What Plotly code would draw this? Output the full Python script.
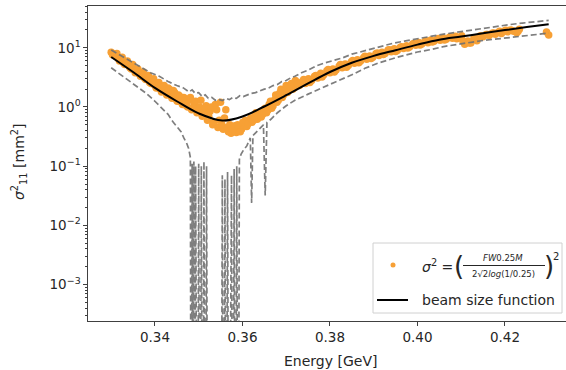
import plotly.graph_objects as go

# ---------------- data ----------------
energy_fit = [0.330, 0.335, 0.340, 0.345, 0.350, 0.3554, 0.360, 0.365, 0.370, 0.375,
              0.380, 0.385, 0.390, 0.395, 0.400, 0.405, 0.410, 0.415, 0.420, 0.425, 0.430]
sigma_fit = [7.0, 3.9, 2.1, 1.25, 0.78, 0.59, 0.69, 1.02, 1.58, 2.5,
             3.9, 5.6, 7.3, 9.1, 11.3, 13.7, 15.5, 17.6, 19.9, 22.4, 25.0]

# measured beam size (first pass of the scan)
energy_data = [
    0.3300, 0.3305, 0.3310, 0.3316, 0.3322, 0.3328, 0.3334, 0.3340, 0.3346, 0.3352,
    0.3358, 0.3364, 0.3370, 0.3376, 0.3382, 0.3388, 0.3394, 0.3400, 0.3406, 0.3412,
    0.3418, 0.3424, 0.3430, 0.3436, 0.3442, 0.3448, 0.3454, 0.3460, 0.3466, 0.3472,
    0.3478, 0.3484, 0.3490, 0.3496, 0.3502, 0.3508, 0.3514, 0.3520, 0.3526, 0.3532,
    0.3538, 0.3544, 0.3550, 0.3556, 0.3562, 0.3568, 0.3574, 0.3580, 0.3586, 0.3592,
    0.3598, 0.3604, 0.3610, 0.3616, 0.3622, 0.3628, 0.3634, 0.3640, 0.3646, 0.3652,
    0.3658, 0.3664, 0.3670, 0.3676, 0.3682, 0.3688, 0.3694, 0.3700, 0.3706, 0.3712,
    0.3718, 0.3724, 0.3730, 0.3737, 0.3744, 0.3751, 0.3758, 0.3765, 0.3772, 0.3779,
    0.3786, 0.3793, 0.3800, 0.3807, 0.3814, 0.3821, 0.3828, 0.3835, 0.3842, 0.3849,
    0.3856, 0.3863, 0.3870, 0.3877, 0.3884, 0.3891, 0.3898, 0.3905, 0.3912, 0.3919,
    0.3926, 0.3933, 0.3940, 0.3947, 0.3954, 0.3961, 0.3968, 0.3975, 0.3982, 0.3989,
    0.3996, 0.4003, 0.4010, 0.4017, 0.4024, 0.4031, 0.4038, 0.4045, 0.4052, 0.4059,
    0.4066, 0.4073, 0.4080, 0.4087, 0.4094, 0.4101, 0.4108, 0.4115, 0.4122, 0.4129,
    0.4136, 0.4143, 0.4150, 0.4157, 0.4164, 0.4171, 0.4178, 0.4185, 0.4192, 0.4199,
    0.4206, 0.4213, 0.4220, 0.4227, 0.4233, 0.4295, 0.4300]
sigma_data = [
    8.4, 7.9, 7.3, 6.6, 6.3, 5.6, 5.4, 5.0, 4.4, 4.3,
    3.9, 3.6, 3.5, 3.1, 3.0, 2.6, 2.7, 2.3, 2.4, 2.0,
    2.2, 1.8, 2.1, 1.55, 1.9, 1.35, 1.6, 1.2, 1.45, 1.05,
    1.3, 0.9, 1.15, 0.8, 1.0, 0.7, 0.95, 0.6, 0.85, 0.5,
    1.1, 0.45, 1.2, 0.42, 0.9, 0.38, 0.36, 0.40, 0.37, 0.45,
    0.42, 0.50, 0.47, 0.58, 0.55, 0.70, 0.62, 0.82, 0.75, 0.95,
    0.88, 1.25, 1.05, 1.6, 1.3, 2.0, 1.6, 2.3, 1.9, 2.5,
    2.1, 2.6, 2.3, 2.7, 2.5, 3.0, 2.8, 3.3, 3.1, 3.7,
    3.5, 4.1, 3.8, 4.4, 4.2, 4.9, 4.6, 5.3, 5.0, 5.8,
    5.5, 6.3, 6.0, 6.8, 6.4, 7.3, 6.9, 7.9, 7.4, 8.4,
    8.0, 9.2, 8.6, 9.6, 9.0, 10.2, 9.7, 10.8, 10.3, 11.6,
    11.0, 12.3, 11.6, 12.8, 12.2, 13.5, 12.9, 14.0, 13.4, 14.6,
    14.0, 15.0, 14.5, 15.6, 14.8, 15.9, 11.5, 13.0, 12.0, 14.5,
    13.2, 15.8, 15.3, 16.7, 16.2, 17.6, 17.0, 18.3, 17.5, 19.2,
    18.6, 20.0, 19.0, 18.0, 20.5, 18.5, 16.5]

# measured beam size (second pass of the scan)
energy_data_b = [
    0.3303, 0.3313, 0.3319, 0.3325, 0.3331, 0.3337, 0.3343, 0.3349, 0.3355, 0.3361,
    0.3367, 0.3373, 0.3379, 0.3385, 0.3391, 0.3397, 0.3403, 0.3409, 0.3415, 0.3421,
    0.3427, 0.3433, 0.3439, 0.3445, 0.3451, 0.3457, 0.3463, 0.3469, 0.3475, 0.3481,
    0.3487, 0.3493, 0.3499, 0.3505, 0.3511, 0.3517, 0.3523, 0.3529, 0.3535, 0.3541,
    0.3547, 0.3553, 0.3559, 0.3565, 0.3571, 0.3577, 0.3583, 0.3589, 0.3595, 0.3601,
    0.3607, 0.3613, 0.3619, 0.3625, 0.3631, 0.3637, 0.3643, 0.3649, 0.3655, 0.3661,
    0.3667, 0.3673, 0.3679, 0.3685, 0.3691, 0.3697, 0.3703, 0.3709, 0.3715, 0.3721,
    0.3727, 0.3740, 0.3754, 0.3768, 0.3782, 0.3796, 0.3810, 0.3824, 0.3838, 0.3852,
    0.3866, 0.3880, 0.3894, 0.3908, 0.3922, 0.3936, 0.3950, 0.3964, 0.3978, 0.3992,
    0.4006, 0.4020, 0.4034, 0.4048, 0.4062, 0.4076, 0.4090, 0.4104, 0.4118, 0.4132,
    0.4146, 0.4160, 0.4174, 0.4188, 0.4202, 0.4216, 0.4230]
sigma_data_b = [
    7.6, 8.0, 6.0, 6.9, 5.2, 6.0, 4.6, 5.2, 3.8, 4.4,
    3.3, 3.9, 2.9, 3.4, 2.5, 3.0, 2.1, 2.6, 1.8, 2.3,
    1.6, 2.0, 1.4, 1.75, 1.25, 1.5, 1.1, 1.3, 1.0, 1.45,
    0.95, 1.25, 0.85, 1.3, 0.8, 1.05, 0.7, 1.0, 0.55, 0.9,
    0.6, 0.5, 0.65, 0.45, 0.5, 0.42, 0.48, 0.5, 0.38, 0.55,
    0.6, 0.52, 0.65, 0.6, 0.8, 0.72, 0.68, 0.85, 0.8, 1.1,
    0.95, 1.3, 1.2, 1.7, 1.45, 1.9, 1.75, 2.2, 2.0, 2.8,
    2.5, 2.9, 2.6, 3.4, 3.2, 4.3, 3.9, 5.2, 4.7, 6.1,
    5.6, 7.2, 6.6, 8.2, 7.7, 9.3, 8.7, 10.4, 9.9, 11.8,
    11.2, 13.2, 12.5, 14.4, 13.6, 15.4, 14.2, 13.0, 12.0, 14.2,
    15.8, 16.8, 17.8, 19.0, 19.8, 19.5, 19.0]

energy_upper = [0.3300, 0.3330, 0.3360, 0.3390, 0.3410, 0.3430, 0.3450, 0.3465, 0.3478, 0.3485,
                0.3492, 0.3500, 0.3508, 0.3515, 0.3522, 0.3530, 0.3538, 0.3546, 0.3554, 0.3562,
                0.3570, 0.3578, 0.3586, 0.3594, 0.3602, 0.3610, 0.3620, 0.3630, 0.3640, 0.3650,
                0.3660, 0.3670, 0.3680, 0.3690, 0.3700, 0.3710, 0.3720, 0.3735, 0.3750, 0.3770,
                0.3790, 0.3810, 0.3830, 0.3850, 0.3880, 0.3910, 0.3940, 0.3970, 0.4000, 0.4030,
                0.4060, 0.4090, 0.4120, 0.4150, 0.4180, 0.4210, 0.4240, 0.4270, 0.4300]
sigma_upper = [9.2, 6.8, 5.0, 3.8, 3.3, 2.7, 2.3, 2.1, 1.8, 1.95,
               1.7, 1.75, 1.5, 1.6, 1.4, 1.45, 1.3, 1.35, 1.28, 1.4,
               1.33, 1.45, 1.4, 1.55, 1.5, 1.6, 1.7, 1.75, 1.9, 2.0,
               2.1, 2.3, 2.4, 2.7, 2.8, 3.1, 3.3, 3.8, 4.2, 5.0,
               5.6, 6.1, 6.8, 7.8, 9.0, 10.4, 11.7, 13.0, 14.3, 15.6,
               17.0, 18.3, 19.8, 21.4, 23.0, 24.6, 26.2, 27.6, 29.0]

energy_lower = [0.3300, 0.3320, 0.3340, 0.3360, 0.3380, 0.3400, 0.3415, 0.3430, 0.3442, 0.3452,
                0.3460, 0.3466, 0.3472, 0.3477, 0.3481,
                0.3483, 0.3485, 0.3487, 0.3489, 0.3491, 0.3493,
                0.3497, 0.3500, 0.3503, 0.3506, 0.3509, 0.3512, 0.3515, 0.3518, 0.3521,
                0.3551, 0.3554, 0.3557, 0.3560, 0.3563, 0.3566, 0.3569,
                0.3575, 0.3578, 0.3581, 0.3584, 0.3587, 0.3590, 0.3593,
                0.3597, 0.3603, 0.3610, 0.3618, 0.3621, 0.3624, 0.3632, 0.3640, 0.3648, 0.3652,
                0.3656, 0.3665, 0.3680, 0.3700, 0.3720, 0.3750, 0.3780, 0.3810, 0.3850, 0.3880,
                0.3910, 0.3950, 0.4000, 0.4030, 0.4060, 0.4100, 0.4150, 0.4190, 0.4230, 0.4270,
                0.4300]
sigma_lower = [4.6, 3.6, 2.8, 2.2, 1.7, 1.25, 0.95, 0.75, 0.55, 0.45,
               0.38, 0.30, 0.25, 0.20, 0.14,
               1e-9, 0.11, 1e-9, 0.12, 1e-9, 0.10,
               1e-9, 0.11, 1e-9, 0.10, 1e-9, 0.12, 1e-9, 0.10, 1e-9,
               1e-9, 0.07, 1e-9, 0.06, 1e-9, 0.08, 1e-9,
               0.07, 1e-9, 0.09, 1e-9, 0.10, 1e-9, 0.13,
               0.16, 0.19, 0.22, 0.30, 0.024, 0.33, 0.38, 0.45, 0.50, 0.032,
               0.55, 0.62, 0.80, 1.05, 1.30, 1.65, 2.1, 2.6, 3.5, 4.5,
               5.5, 6.8, 8.5, 9.3, 10.5, 11.8, 13.3, 14.3, 15.5, 16.6,
               17.7]

x_ticks = [0.34, 0.36, 0.38, 0.40, 0.42]
x_tick_labels = ["0.34", "0.36", "0.38", "0.40", "0.42"]
y_ticks = [1e-3, 1e-2, 1e-1, 1, 10]
y_tick_labels = ["10<sup>−3</sup>", "10<sup>−2</sup>", "10<sup>−1</sup>", "10<sup>0</sup>", "10<sup>1</sup>"]

# ---------------- layout constants ----------------
W, H = 566, 370
L, R, T, B = 88, 566, 6, 321
FONT = "DejaVu Sans"
TXT = "#262626"
ORANGE = "#f7a035"
GRAY = "rgba(112,112,112,0.9)"


def px(x):
    return (x - L) / (R - L)


def py(y):
    return (B - y) / (B - T)


fig = go.Figure()
fig.add_trace(go.Scatter(x=energy_data + energy_data_b, y=sigma_data + sigma_data_b, mode="markers",
                         marker=dict(color=ORANGE, size=7.5, line=dict(width=0)),
                         showlegend=False))
fig.add_trace(go.Scatter(x=energy_upper, y=sigma_upper, mode="lines",
                         line=dict(color=GRAY, width=1.7, dash="6px,3px"), showlegend=False))
fig.add_trace(go.Scatter(x=energy_lower, y=sigma_lower, mode="lines",
                         line=dict(color=GRAY, width=1.7, dash="6px,3px"), showlegend=False))
fig.add_trace(go.Scatter(x=energy_fit, y=sigma_fit, mode="lines",
                         line=dict(color="black", width=2, shape="spline", smoothing=1.0),
                         showlegend=False))

minor_vals = [m * 10.0 ** k for k in range(-4, 2) for m in range(2, 10)]

fig.update_layout(
    width=W, height=H, autosize=False,
    margin=dict(l=L, r=W - R, t=T, b=H - B, pad=0),
    paper_bgcolor="white", plot_bgcolor="white",
    font=dict(family=FONT, size=14, color=TXT),
    xaxis=dict(range=[0.3247, 0.3247 + (R - L) / 4375.0], showgrid=False, zeroline=False,
               showline=True, linecolor="#404040", linewidth=1.3, mirror=True,
               ticks="outside", ticklen=3.5, tickwidth=1, tickcolor="#404040",
               tickvals=x_ticks, ticktext=x_tick_labels,
               tickfont=dict(family=FONT, size=13.5, color=TXT)),
    yaxis=dict(type="log", range=[-3.615, 1.706], showgrid=False, zeroline=False,
               showline=True, linecolor="#404040", linewidth=1.3,
               ticks="outside", ticklen=3.5, tickwidth=1, tickcolor="#404040",
               tickvals=y_ticks, ticktext=y_tick_labels,
               tickfont=dict(family=FONT, size=13.5, color=TXT),
               minor=dict(tickvals=minor_vals, ticks="outside", ticklen=2,
                          tickwidth=0.8, tickcolor="#404040")),
)

shapes = []
annotations = []
# axis titles
annotations.append(dict(xref="paper", yref="paper", x=px(330), y=py(361), text="Energy [GeV]",
                        showarrow=False, font=dict(family=FONT, size=14, color=TXT),
                        xanchor="center", yanchor="middle"))
annotations.append(dict(xref="paper", yref="paper", x=px(19), y=py(162),
                        text="<i>σ</i><sup>2</sup><sub>11</sub> [mm<sup>2</sup>]",
                        textangle=-90, showarrow=False, font=dict(family=FONT, size=14, color=TXT),
                        xanchor="center", yanchor="middle"))

# legend box
shapes.append(dict(type="rect", xref="paper", yref="paper", x0=px(373), x1=px(562),
                   y0=py(313), y1=py(243), line=dict(color="#d0d0d0", width=1),
                   fillcolor="rgba(255,255,255,0.85)", layer="above"))
shapes.append(dict(type="circle", xref="paper", yref="paper", x0=px(390.5), x1=px(395.5),
                   y0=py(267.5), y1=py(262.5), line=dict(width=0), fillcolor=ORANGE, layer="above"))
shapes.append(dict(type="line", xref="paper", yref="paper", x0=px(377), x1=px(408),
                   y0=py(300), y1=py(300), line=dict(color="black", width=2), layer="above"))
shapes.append(dict(type="line", xref="paper", yref="paper", x0=px(463), x1=px(545),
                   y0=py(265.5), y1=py(265.5), line=dict(color=TXT, width=1), layer="above"))

annotations.append(dict(xref="paper", yref="paper", x=px(420), y=py(266),
                        text="<i>σ</i><sup>2</sup> =", showarrow=False,
                        font=dict(family=FONT, size=14, color=TXT), xanchor="left", yanchor="middle"))
annotations.append(dict(xref="paper", yref="paper", x=px(459), y=py(266), text="(",
                        showarrow=False, font=dict(family=FONT, size=26, color=TXT),
                        xanchor="center", yanchor="middle"))
annotations.append(dict(xref="paper", yref="paper", x=px(549), y=py(266), text=")",
                        showarrow=False, font=dict(family=FONT, size=26, color=TXT),
                        xanchor="center", yanchor="middle"))
annotations.append(dict(xref="paper", yref="paper", x=px(556), y=py(256), text="2",
                        showarrow=False, font=dict(family=FONT, size=10, color=TXT),
                        xanchor="center", yanchor="middle"))
annotations.append(dict(xref="paper", yref="paper", x=px(503), y=py(258),
                        text="<i>FW</i>0.25<i>M</i>", showarrow=False,
                        font=dict(family=FONT, size=8.5, color=TXT), xanchor="center", yanchor="middle"))
annotations.append(dict(xref="paper", yref="paper", x=px(503), y=py(273.5),
                        text="2√2<i>log</i>(1/0.25)", showarrow=False,
                        font=dict(family=FONT, size=8.5, color=TXT), xanchor="center", yanchor="middle"))
annotations.append(dict(xref="paper", yref="paper", x=px(420), y=py(300),
                        text="beam size function", showarrow=False,
                        font=dict(family=FONT, size=14, color=TXT), xanchor="left", yanchor="middle"))

fig.update_layout(shapes=shapes, annotations=annotations)
fig.write_html("out.html", config={"displayModeBar": False})
